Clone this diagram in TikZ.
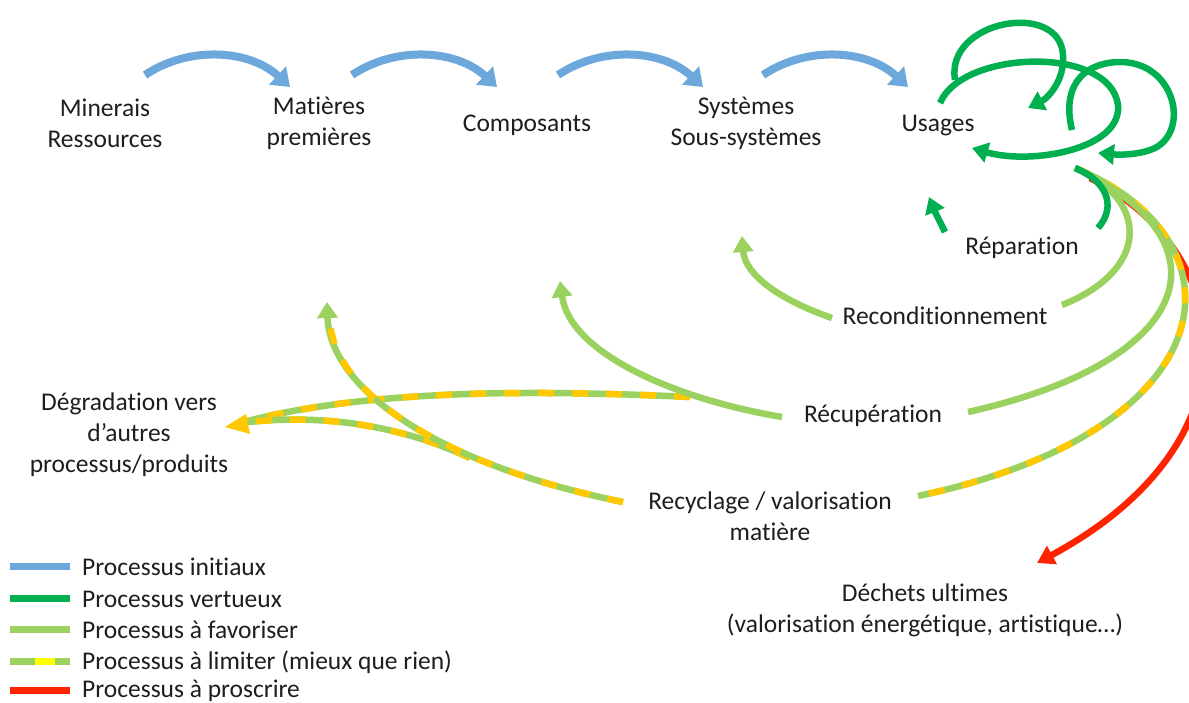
\documentclass[tikz,border=0pt]{standalone}
\usepackage{fontspec}
\setmainfont[Ligatures=NoCommon,Contextuals=NoAlternate]{Carlito}
\usetikzlibrary{arrows.meta}
\definecolor{cblue}{HTML}{6CA8DC}
\definecolor{cdgreen}{HTML}{00B050}
\definecolor{clgreen}{HTML}{9BD25F}
\definecolor{cred}{HTML}{FF2400}
\definecolor{cyel}{HTML}{FFC800}
\definecolor{clyel}{HTML}{FFFF00}
\definecolor{ctext}{HTML}{1E1E1E}
\begin{document}
\begin{tikzpicture}[x=1pt,y=-1pt,
  lbl/.style={align=center,text=ctext,font=\fontsize{25.5}{31}\selectfont,inner sep=0pt},
  bluearr/.style={draw=cblue,line width=8pt,-{Triangle[width=24pt,length=17pt]},cblue},
  dgarr/.style={draw=cdgreen,line width=6.5pt,-{Triangle[width=20pt,length=16pt]},cdgreen},
  dgline/.style={draw=cdgreen,line width=6.5pt},
  lgarr/.style={draw=clgreen,line width=6.5pt,-{Triangle[width=20pt,length=16pt]},clgreen},
  lgline/.style={draw=clgreen,line width=6.5pt},
  yeldash/.style={draw=cyel,line width=6.5pt,dash pattern=on 16pt off 18pt},
  redarr/.style={draw=cred,line width=6.5pt,-{Triangle[width=20pt,length=17pt]},cred},
  leg/.style={line width=7pt}]
\clip (0,0) rectangle (1189,702);
\fill[white] (0,0) rectangle (1189,702);

% text nodes
\node[lbl] (mine) at (105,123) {Minerais\\Ressources};
\node[lbl] (mat) at (319,123) {Matières\\premières};
\node[lbl] (comp) at (527,125) {Composants};
\node[lbl] (sys) at (746,123) {Systèmes\\Sous-systèmes};
\node[lbl] (usa) at (938,126) {Usages};
\node[lbl] (rep) at (1022,248) {Réparation};
\node[lbl] (rec) at (945,316) {Reconditionnement};
\node[lbl] (recu) at (873,416) {Récupération};
\node[lbl] (deg) at (129,435) {Dégradation vers\\d’autres\\processus/produits};
\node[lbl] (recy) at (770,516) {Recyclage / valorisation\\matière};
\node[lbl] (dech) at (925,610) {Déchets ultimes\\(valorisation énergétique, artistique…)};

% blue arrows
\foreach \dx in {0,207,413,618}{
  \draw[bluearr] (145+\dx,75) .. controls (190+\dx,45) and (250+\dx,50) .. (290+\dx,87);
}

% coordinates
\coordinate (b0) at (1075,168);
\coordinate (b1) at (1090,178);

% red
\draw[redarr] (b1) .. controls (1235,250) and (1265,440) .. (1037,563);
% recyclage right (dashed)
\draw[lgline] (b0) .. controls (1250,240) and (1230,430) .. (918,496);
\draw[yeldash] (b0) .. controls (1250,240) and (1230,430) .. (918,496);
% recuperation right
\draw[lgline] (b0) .. controls (1230,240) and (1200,360) .. (968,412);
% reconditionnement right
\draw[lgline] (b0) .. controls (1150,200) and (1150,270) .. (1062,305);

% left pieces
\draw[lgarr] (832,318) .. controls (780,300) and (745,275) .. (742,236);
\coordinate (rj) at (690,397);
\draw[lgline] (rj) .. controls (500,388) and (350,393) .. (240,423);
\draw[yeldash] (rj) .. controls (500,388) and (350,393) .. (240,423);
\draw[lgarr] (782,417) .. controls (680,400) and (570,355) .. (560,281);

\draw[lgline] (470,458) .. controls (400,425) and (320,413) .. (240,423);
\draw[yeldash] (470,458) .. controls (400,425) and (320,413) .. (240,423);
\draw[lgline,-{Triangle[width=20pt,length=16pt]},clgreen] (623,502) .. controls (440,465) and (330,390) .. (327,302);
\draw[yeldash] (623,502) .. controls (440,465) and (330,390) .. (330,318);
\fill[cyel] (225,427) -- (246,414) -- (250,434) -- cycle;

% dark green loops
\draw[dgline] (b0) .. controls (1105,180) and (1118,205) .. (1098,228);
\draw[dgarr] (945,232) .. controls (940,222) and (935,212) .. (929,197);
\draw[dgarr] (940,103) .. controls (962,50) and (1110,45) .. (1118,105) .. controls (1122,150) and (1030,165) .. (972,148);
\draw[dgarr] (955,80) .. controls (945,20) and (1060,0) .. (1063,55) .. controls (1065,80) and (1048,98) .. (1028,108);
\draw[dgarr] (1072,130) .. controls (1060,80) and (1090,62) .. (1120,62) .. controls (1175,62) and (1190,130) .. (1155,148) .. controls (1140,155) and (1120,155) .. (1098,153);

% legend
\draw[leg,cblue] (10,566) -- (70,566);
\draw[leg,cdgreen] (10,598) -- (70,598);
\draw[leg,clgreen] (10,629) -- (70,629);
\draw[leg,clgreen] (10,661) -- (70,661);
\draw[leg,clyel] (35,661) -- (55,661);
\draw[leg,cred] (10,690) -- (70,690);
\node[lbl,anchor=west] (l1) at (82,567) {Processus initiaux};
\node[lbl,anchor=west] (l2) at (82,599) {Processus vertueux};
\node[lbl,anchor=west] (l3) at (82,630) {Processus à favoriser};
\node[lbl,anchor=west] (l4) at (82,662) {Processus à limiter (mieux que rien)};
\node[lbl,anchor=west] (l5) at (82,691) {Processus à proscrire};
\end{tikzpicture}
\end{document}
